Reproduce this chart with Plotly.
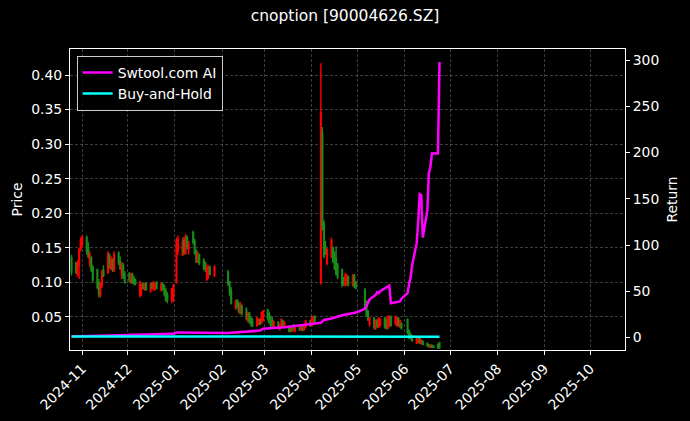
import plotly.graph_objects as go
from plotly.subplots import make_subplots

# ---------------- data ----------------
TITLE = "cnoption [90004626.SZ]"

# trading days per month
TRADING_DAYS = {
    "2024-10": [25, 28, 29, 30, 31],
    "2024-11": [1, 4, 5, 6, 7, 8, 11, 12, 13, 14, 15, 18, 19, 20, 21, 22, 25, 26, 27, 28, 29],
    "2024-12": [2, 3, 4, 5, 6, 9, 10, 11, 12, 13, 16, 17, 18, 19, 20, 23, 24, 25, 26, 27, 30, 31],
    "2025-01": [2, 3, 6, 7, 8, 9, 10, 13, 14, 15, 16, 17, 20, 21, 22, 23, 24, 27],
    "2025-02": [5, 6, 7, 10, 11, 12, 13, 14, 17, 18, 19, 20, 21, 24, 25, 26, 27, 28],
    "2025-03": [3, 4, 5, 6, 7, 10, 11, 12, 13, 14, 17, 18, 19, 20, 21, 24, 25, 26, 27, 28, 31],
    "2025-04": [1, 2, 3, 7, 8, 9, 10, 11, 14, 15, 16, 17, 18, 21, 22, 23, 24, 25, 28, 29, 30],
    "2025-05": [6, 7, 8, 9, 12, 13, 14, 15, 16, 19, 20, 21, 22, 23, 26, 27, 28, 29, 30],
    "2025-06": [3, 4, 5, 6, 9, 10, 11, 12, 13, 16, 17, 18, 19, 20, 23, 24],
}
dates = [f"{m}-{d:02d}" for m, days in TRADING_DAYS.items() for d in days]

OPEN = [
    .135, .128, .112, .125, .148,
    .155, .165, .150, .128, .135, .122, .118, .100, .082, .095, .118, .115, .140, .120, .132, .118, .142, .130, .112, .125, .112,
    .112, .100, .112, .105, .102, .082, .090, .098, .090, .098, .088, .098, .090, .092, .099, .089, .098, .095, .088, .082, .074, .080,
    .100, .145, .140, .160, .142, .165, .148, .172, .160, .145, .130, .140, .132, .128, .105, .112, .122, .110,
    .115, .100, .088, .064, .074, .068, .056, .066, .060, .046, .055, .048, .044, .038, .040, .046, .042, .045,
    .060, .055, .048, .045, .036, .042, .034, .036, .044, .036, .036, .034, .030, .036, .030, .036, .031, .036, .032, .036, .044,
    .038, .042, .050, .099, .316, .186, .152, .128, .137, .150, .140, .135, .125, .118, .105, .096, .098, .108, .096, .110, .100,
    .089, .070, .058, .040, .048, .034, .045, .036, .038, .048, .044, .034, .038, .050, .040, .038, .048, .036, .040,
    .046, .030, .025, .022, .012, .014, .019, .011, .015, .012, .010, .006, .009, .008, .010, .012,
]
HIGH = [
    .140, .130, .132, .150, .165,
    .168, .168, .158, .145, .138, .125, .120, .105, .100, .118, .125, .145, .142, .138, .135, .145, .145, .138, .130, .128, .116,
    .115, .114, .114, .110, .106, .102, .098, .100, .100, .100, .100, .100, .102, .100, .102, .100, .100, .097, .092, .086, .092, .098,
    .165, .168, .165, .166, .170, .168, .160, .175, .163, .148, .145, .142, .135, .130, .126, .125, .124, .125,
    .118, .102, .093, .075, .076, .072, .072, .068, .064, .058, .057, .050, .048, .050, .048, .048, .058, .060,
    .062, .058, .052, .050, .045, .044, .040, .048, .046, .044, .038, .036, .038, .040, .036, .038, .038, .038, .040, .046, .046,
    .050, .052, .052, .417, .325, .190, .160, .150, .165, .152, .145, .152, .128, .120, .108, .114, .112, .110, .112, .112, .102,
    .092, .074, .060, .050, .050, .046, .047, .050, .048, .050, .048, .052, .052, .052, .052, .050, .050, .046, .042,
    .048, .032, .027, .024, .022, .021, .020, .018, .016, .013, .011, .010, .010, .009, .012, .014,
]
LOW = [
    .110, .112, .108, .105, .145,
    .150, .140, .135, .122, .115, .100, .090, .078, .078, .092, .108, .112, .120, .118, .115, .115, .125, .118, .105, .105, .098,
    .100, .098, .098, .096, .096, .078, .080, .090, .088, .088, .085, .090, .088, .088, .090, .087, .088, .080, .072, .070, .070, .072,
    .098, .140, .138, .140, .140, .148, .140, .155, .140, .128, .128, .125, .118, .115, .102, .105, .110, .108,
    .095, .080, .068, .060, .062, .055, .054, .052, .045, .042, .040, .036, .035, .036, .038, .038, .040, .043,
    .045, .040, .035, .036, .034, .032, .030, .034, .035, .034, .028, .028, .028, .030, .028, .030, .030, .029, .030, .034, .036,
    .036, .040, .042, .097, .175, .135, .140, .125, .135, .128, .118, .110, .105, .093, .095, .094, .095, .094, .094, .092, .090,
    .060, .050, .044, .036, .032, .031, .034, .034, .036, .033, .032, .032, .035, .036, .038, .036, .036, .034, .032,
    .025, .018, .017, .014, .011, .012, .011, .010, .009, .007, .006, .005, .005, .005, .004, .004,
]
CLOSE = [
    .115, .114, .128, .147, .160,
    .166, .145, .138, .140, .118, .104, .093, .082, .096, .115, .110, .142, .125, .133, .118, .140, .128, .120, .126, .108, .100,
    .104, .110, .100, .099, .098, .100, .095, .092, .097, .090, .097, .092, .099, .098, .092, .097, .090, .083, .075, .074, .090, .095,
    .160, .162, .158, .143, .165, .150, .156, .158, .143, .130, .140, .128, .120, .118, .122, .120, .112, .122,
    .098, .085, .070, .072, .065, .058, .068, .055, .048, .055, .043, .040, .038, .048, .046, .040, .056, .058,
    .048, .043, .038, .040, .043, .034, .038, .046, .037, .042, .030, .030, .036, .032, .034, .032, .036, .031, .038, .044, .038,
    .048, .050, .044, .345, .180, .138, .145, .147, .161, .130, .120, .112, .108, .096, .098, .110, .108, .097, .109, .094, .092,
    .062, .052, .046, .048, .035, .044, .037, .048, .046, .036, .035, .050, .049, .038, .050, .047, .038, .044, .034,
    .028, .020, .019, .016, .020, .019, .013, .016, .010, .008, .007, .009, .006, .006, .005, .005,
]

# strategy return (right axis), read at selected dates
AI_DATES = [
    "2024-10-25", "2024-11-29", "2024-12-31", "2025-01-02", "2025-02-05", "2025-02-26",
    "2025-02-28", "2025-03-14", "2025-03-28", "2025-04-03", "2025-04-07", "2025-04-09",
    "2025-04-14", "2025-04-21", "2025-04-25", "2025-04-30", "2025-05-06", "2025-05-07",
    "2025-05-08", "2025-05-09", "2025-05-12", "2025-05-13", "2025-05-14", "2025-05-15",
    "2025-05-16", "2025-05-19", "2025-05-21", "2025-05-22", "2025-05-23", "2025-05-26",
    "2025-05-28", "2025-05-29", "2025-05-30", "2025-06-03", "2025-06-04", "2025-06-05",
    "2025-06-06", "2025-06-09", "2025-06-10", "2025-06-11", "2025-06-12", "2025-06-13",
    "2025-06-16", "2025-06-17", "2025-06-18", "2025-06-19", "2025-06-20", "2025-06-23",
    "2025-06-24",
]
AI_RETURN = [
    1.0, 2.5, 4.0, 5.5, 5.0, 7.5,
    9.5, 11, 14, 15, 16, 19,
    20.5, 24, 25, 27, 31, 34,
    38, 41, 45, 46, 49, 48,
    50, 53, 55, 56, 37, 38,
    38, 39, 42, 48, 58, 65,
    78, 102, 126, 155, 154, 108,
    137, 178, 184, 199, 199, 199,
    298,
]

BH_DATES = ["2024-10-25", "2024-12-31", "2025-03-31", "2025-06-24"]
BH_RETURN = [1.2, 1.1, 1.0, 0.9]

X_TICKS = ["2024-11-01", "2024-12-01", "2025-01-01", "2025-02-01", "2025-03-01", "2025-04-01",
           "2025-05-01", "2025-06-01", "2025-07-01", "2025-08-01", "2025-09-01", "2025-10-01"]
X_TICK_LABELS = [t[:7] for t in X_TICKS]
PRICE_TICKS = [0.05, 0.10, 0.15, 0.20, 0.25, 0.30, 0.35, 0.40]
RETURN_TICKS = [0, 50, 100, 150, 200, 250, 300]

# ---------------- figure ----------------
FONT = "DejaVu Sans"
fig = make_subplots(specs=[[{"secondary_y": True}]])

fig.add_trace(go.Candlestick(
    x=dates, open=OPEN, high=HIGH, low=LOW, close=CLOSE,
    increasing=dict(line=dict(color="#ff0000", width=1.4), fillcolor="#ff0000"),
    decreasing=dict(line=dict(color="#1a8c1a", width=1.4), fillcolor="#1a8c1a"),
    whiskerwidth=0, showlegend=False, name="price",
), secondary_y=False)

fig.add_trace(go.Scatter(
    x=AI_DATES, y=AI_RETURN, mode="lines", name="Swtool.com AI",
    line=dict(color="#ff00ff", width=2.5),
), secondary_y=True)

fig.add_trace(go.Scatter(
    x=BH_DATES, y=BH_RETURN, mode="lines", name="Buy-and-Hold",
    line=dict(color="#00ffff", width=2.5),
), secondary_y=True)

grid = "rgba(150,150,150,0.4)"
fig.update_layout(
    width=690, height=421,
    paper_bgcolor="black", plot_bgcolor="black",
    margin=dict(l=70, r=65, t=49, b=71, autoexpand=False),
    font=dict(family=FONT, color="white", size=13.9),
    title=dict(text=TITLE, x=0.5, xanchor="center", y=0.962, yanchor="middle",
               font=dict(family=FONT, size=15.5, color="white")),
    showlegend=True,
    legend=dict(x=0.012, y=0.977, xanchor="left", yanchor="top",
                bgcolor="rgba(0,0,0,0.8)", bordercolor="#cccccc", borderwidth=1,
                font=dict(family=FONT, size=13.9, color="white"),
                tracegroupgap=0, itemwidth=30),
)
fig.update_xaxes(
    type="date", range=["2024-10-24", "2025-10-24"], automargin=False, domain=[0, 1],
    tickmode="array", tickvals=X_TICKS, ticktext=X_TICK_LABELS, tickangle=-45,
    ticks="outside", ticklen=4, tickcolor="white",
    showgrid=True, gridcolor=grid, griddash="3px,2px", gridwidth=0.6,
    showline=True, linecolor="white", linewidth=1, mirror=True,
    rangeslider=dict(visible=False), zeroline=False,
)
fig.update_yaxes(
    range=[0.0022, 0.4377], automargin=False, tickmode="array", tickvals=PRICE_TICKS,
    ticktext=[f"{v:.2f}" for v in PRICE_TICKS],
    ticks="outside", ticklen=4, tickcolor="white",
    showgrid=True, gridcolor=grid, griddash="3px,2px", gridwidth=0.6,
    showline=True, linecolor="white", linewidth=1, mirror=True, zeroline=False,
    title=dict(text="Price", standoff=5, font=dict(family=FONT, size=13.9)),
    secondary_y=False,
)
fig.update_yaxes(
    range=[-13.5, 312], automargin=False, tickmode="array", tickvals=RETURN_TICKS,
    ticks="outside", ticklen=4, tickcolor="white",
    showgrid=False, showline=True, linecolor="white", linewidth=1, zeroline=False,
    title=dict(text="Return", standoff=8, font=dict(family=FONT, size=13.9)),
    secondary_y=True,
)

fig.write_html(
    "out.html",
    config={"displayModeBar": False},
    post_script="document.body.style.margin='0';document.body.style.background='black';",
)
